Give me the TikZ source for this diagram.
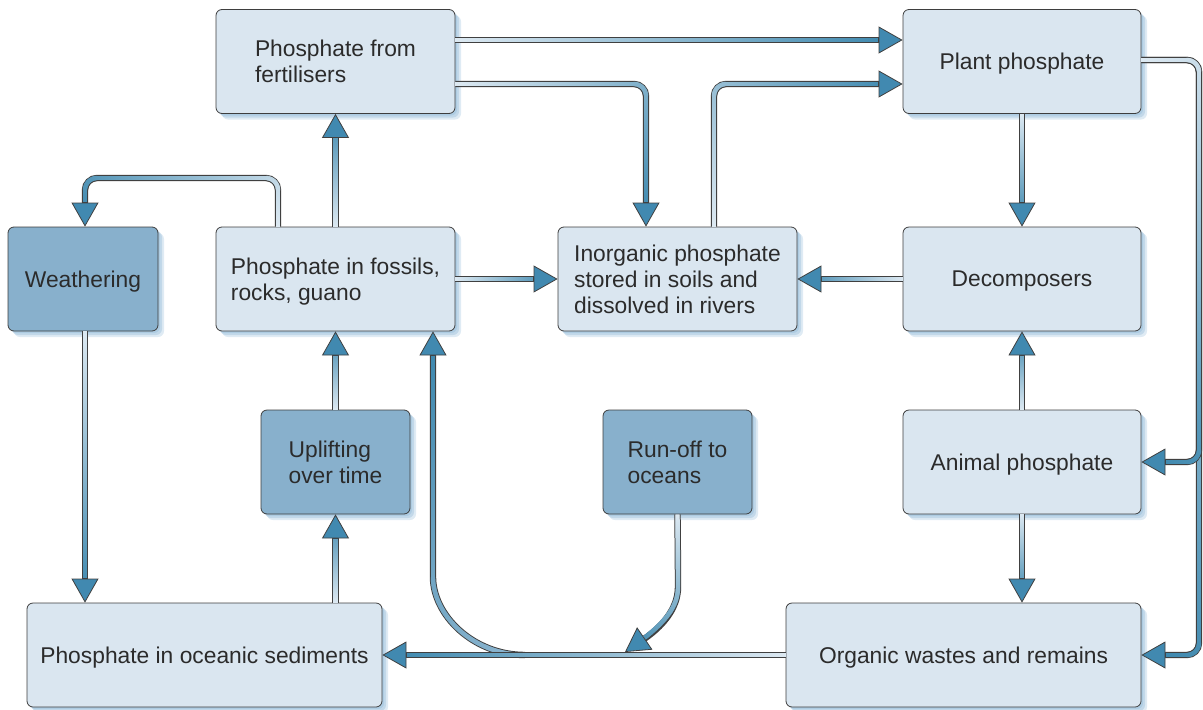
\documentclass[tikz,border=0pt]{standalone}
\usepackage{fontspec}
\newfontfamily\boxfont{Liberation Sans}
\usetikzlibrary{arrows.meta,decorations.markings,shadows}
\definecolor{boxlight}{HTML}{DAE6F0}
\definecolor{boxdark}{HTML}{88B0CC}
\definecolor{boxedge}{HTML}{3E3E3E}
\definecolor{textgray}{HTML}{2B2B2B}
\definecolor{shadowblue}{HTML}{7FAED2}
\definecolor{arrowlight}{HTML}{DDE9F2}
\definecolor{arrowdark}{HTML}{3A86AD}
\definecolor{arrowmid}{HTML}{8DB6D0}
\definecolor{tipblue}{HTML}{4189B0}
\definecolor{flowedge}{HTML}{404040}
\def\flowstart{arrowlight}
\tikzset{
  box/.style={draw=boxedge, line width=0.8pt, rounded corners=6pt, fill=boxlight,
    text=textgray, font={\boxfont\fontsize{22.8}{26}\selectfont}, align=left, inner sep=0pt,
    minimum height=104pt,
    drop shadow={shadow xshift=2pt, shadow yshift=-2pt, fill=shadowblue, opacity=.3},
    drop shadow={shadow xshift=4pt, shadow yshift=-4pt, fill=shadowblue, opacity=.3},
    drop shadow={shadow xshift=6pt, shadow yshift=-6pt, fill=shadowblue, opacity=.25}},
  darkbox/.style={box, fill=boxdark},
  flowfrom/.code={\def\flowstart{#1}},
  flow/.style={draw=flowedge, line width=6.4pt, rounded corners=12pt,
    -{Triangle[length=24pt,width=27pt,fill=tipblue,line width=0.8pt]},
    postaction={decorate, decoration={markings,
      mark=between positions 0.8pt and -24.8pt step 1pt with {%
        \pgfmathsetmacro\flowpct{\pgfkeysvalueof{/pgf/decoration/mark info/distance from start}/\pgfdecoratedpathlength*100}%
        \fill[sharp corners, arrowdark!\flowpct!\flowstart] (-0.75pt,-2.2pt) rectangle (0.75pt,2.2pt);}}}}
}
\begin{document}
\begin{tikzpicture}[x=1pt,y=-1pt]
\useasboundingbox (0,0) rectangle (1203,710);
% boxes
\node[box, minimum width=239pt, text depth=-3pt] (fert) at (335.5,61.5) {Phosphate from\\fertilisers};
\node[box, minimum width=238pt, text depth=-1.4pt] (plant) at (1022,61.5) {Plant phosphate};
\node[darkbox, minimum width=150pt, text depth=-1.4pt] (weath) at (83,279) {Weathering};
\node[box, minimum width=239pt, text depth=-1.4pt] (fos) at (335.5,279) {Phosphate in fossils,\\rocks, guano};
\node[box, minimum width=239pt, text depth=-2pt] (inorg) at (677.5,279) {Inorganic phosphate\\stored in soils and\\dissolved in rivers};
\node[box, minimum width=238pt, text depth=-1.4pt] (decomp) at (1022,279) {Decomposers};
\node[darkbox, minimum width=149pt, text depth=-2pt] (uplift) at (335.5,462) {Uplifting\\over time};
\node[darkbox, minimum width=149pt, text depth=-3pt] (runoff) at (677.5,462) {Run-off to\\oceans};
\node[box, minimum width=238pt, text depth=-1.4pt] (animal) at (1022,462) {Animal phosphate};
\node[box, minimum width=355pt, text depth=-1.4pt] (ocean) at (204.5,655) {Phosphate in oceanic sediments};
\node[box, minimum width=355pt, text depth=-1.4pt] (organic) at (963.5,655) {Organic wastes and remains};
% connectors
\draw[flow] (fert.east |- 0,40) -- (plant.west |- 0,40);
\draw[flow] (fert.east |- 0,84) -- (646,84) -- (inorg.north -| 646,0);
\draw[flow] (inorg.north -| 714,0) -- (714,84) -- (plant.west |- 0,84);
\draw[flow] (plant.east |- 0,60) -- (1199,60) -- (1199,655) -- (organic.east |- 0,655);
\draw[flow] (plant.east |- 0,60) -- (1199,60) -- (1199,462) -- (animal.east |- 0,462);
\draw[flow] (plant.south) -- (decomp.north);
\draw[flow] (decomp.west) -- (inorg.east);
\draw[flow] (animal.north) -- (decomp.south);
\draw[flow] (animal.south) -- (organic.north -| animal.south);
\draw[flow, flowfrom=arrowmid] (525,655) .. controls (473,655) and (433,615) .. (433,565) -- (fos.south -| 433,0);
\draw[flow] (organic.west) -- (ocean.east);
\draw[flow] (runoff.south) -- (678,575) .. controls (678,610) and (660,628) .. (625,652);
\draw[flow] (fos.east) -- (inorg.west);
\draw[flow] (fos.north) -- (fert.south);
\draw[flow] (fos.north -| 278,0) -- (278,178) -- (85,178) -- (weath.north -| 85,0);
\draw[flow] (weath.south -| 85,0) -- (ocean.north -| 85,0);
\draw[flow] (ocean.north -| uplift.south) -- (uplift.south);
\draw[flow] (uplift.north) -- (fos.south);
\end{tikzpicture}
\end{document}
